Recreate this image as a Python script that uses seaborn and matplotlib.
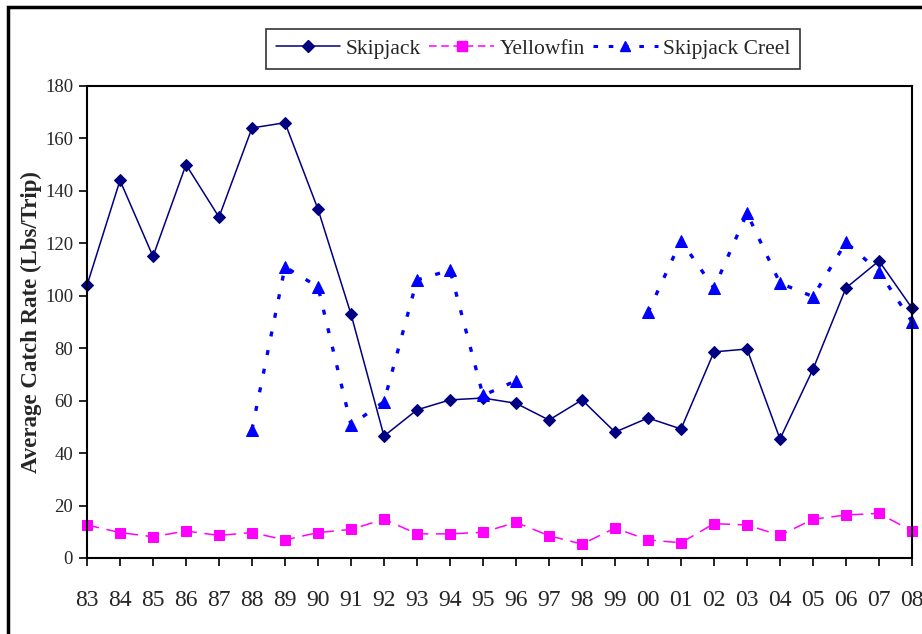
import numpy as np
import pandas as pd
import matplotlib
matplotlib.use("Agg")
import matplotlib.pyplot as plt
from matplotlib.lines import Line2D
from matplotlib.patches import Rectangle
import seaborn as sns

years = ["83", "84", "85", "86", "87", "88", "89", "90", "91", "92", "93", "94", "95",
         "96", "97", "98", "99", "00", "01", "02", "03", "04", "05", "06", "07", "08"]
skipjack = [104, 144, 115, 150, 130, 164, 166, 133, 93, 46.5, 56.5, 60.3, 61,
            59, 52.6, 60.3, 48, 53.4, 49.2, 78.6, 79.7, 45.4, 72, 103, 113.3, 95.3]
yellowfin = [12.6, 9.7, 8.1, 10.3, 8.6, 9.7, 6.9, 9.7, 10.9, 14.8, 9.2, 9.2, 9.8,
             13.6, 8.5, 5.3, 11.4, 6.9, 5.8, 13.1, 12.6, 8.6, 14.8, 16.4, 17, 10.3]
creel = [np.nan, np.nan, np.nan, np.nan, np.nan, 49, 111, 103.4, 50.7, 59.6, 106, 109.8, 62,
         67.6, np.nan, np.nan, np.nan, 93.7, 121, 102.9, 131.5, 104.8, 99.7, 120.4, 109.2, 90.1]
series_names = ["Skipjack", "Yellowfin", "Skipjack Creel"]
yticks = list(range(0, 181, 20))

sns.set_style("white")
plt.rcParams["font.family"] = ["Liberation Serif", "DejaVu Serif"]

pos = np.arange(len(years))
df = pd.DataFrame({"pos": pos, "Skipjack": skipjack, "Yellowfin": yellowfin,
                   "Skipjack Creel": creel})
# segment id for creel gaps
seg = np.cumsum(pd.isna(df["Skipjack Creel"]).astype(int).values)
df["seg"] = seg

fig = plt.figure(figsize=(9.22, 6.34), dpi=100)
ax = fig.add_axes([87 / 922, 1 - 558 / 634, (912 - 87) / 922, (558 - 86) / 634])

navy = "#000080"
mag = "#FF00FF"
blue = "#0000FF"

sns.lineplot(data=df, x="pos", y="Skipjack", ax=ax, color=navy, lw=1.1,
             marker="D", markersize=6.5, markeredgecolor=navy, legend=False, clip_on=False)
sns.lineplot(data=df, x="pos", y="Yellowfin", ax=ax, color=mag, lw=1.1,
             marker="s", markersize=7, markeredgecolor=mag, legend=False, clip_on=False)
ax.lines[-1].set_dashes((8, 5))
cdf = df.dropna(subset=["Skipjack Creel"])
for s, g in cdf.groupby("seg"):
    sns.lineplot(data=g, x="pos", y="Skipjack Creel", ax=ax, color=blue, lw=2.4,
                 marker="^", markersize=8, markeredgecolor=blue, legend=False, clip_on=False)
    ax.lines[-1].set_dashes((1.5, 4.2))

ax.set_xlim(0, len(years) - 1)
ax.set_ylim(0, 180)
ax.set_xticks(pos)
ax.set_xticklabels(years, fontsize=17)
ax.set_yticks(yticks)
ax.set_yticklabels([str(v) for v in yticks], fontsize=13.5)
ax.set_xlabel("")
ax.set_ylabel("Average Catch Rate (Lbs/Trip)", fontsize=16.5, fontweight="bold", labelpad=2)
ax.tick_params(axis="both", direction="out", length=6, width=1.2, color="black",
               bottom=True, left=True)
ax.tick_params(axis="x", pad=17)
ax.tick_params(axis="y", pad=4)
for sp in ax.spines.values():
    sp.set_visible(True)
    sp.set_color("black")
    sp.set_linewidth(1.5)

handles = [
    Line2D([], [], color=navy, lw=1.1, marker="D", markersize=6),
    Line2D([], [], color=mag, lw=1.1, marker="s", markersize=6.5, dashes=(5, 3)),
    Line2D([], [], color=blue, lw=2.2, marker="^", markersize=7, dashes=(1.5, 3.5)),
]
leg = fig.legend(handles, series_names, loc="center", bbox_to_anchor=(533 / 922, 1 - 49 / 634),
                 ncol=3, fontsize=15.5, frameon=True, fancybox=False, handlelength=3.0,
                 handletextpad=0.25, columnspacing=0.4, borderpad=0.45, borderaxespad=0,
                 edgecolor="black")
leg.get_frame().set_linewidth(1.2)

fig.patches.append(Rectangle((8 / 922, -0.1), 1.2, 1 - 7 / 634 + 0.1, transform=fig.transFigure,
                             fill=False, edgecolor="black", lw=2.5))

fig.savefig("out.png", dpi=100, facecolor="white")
